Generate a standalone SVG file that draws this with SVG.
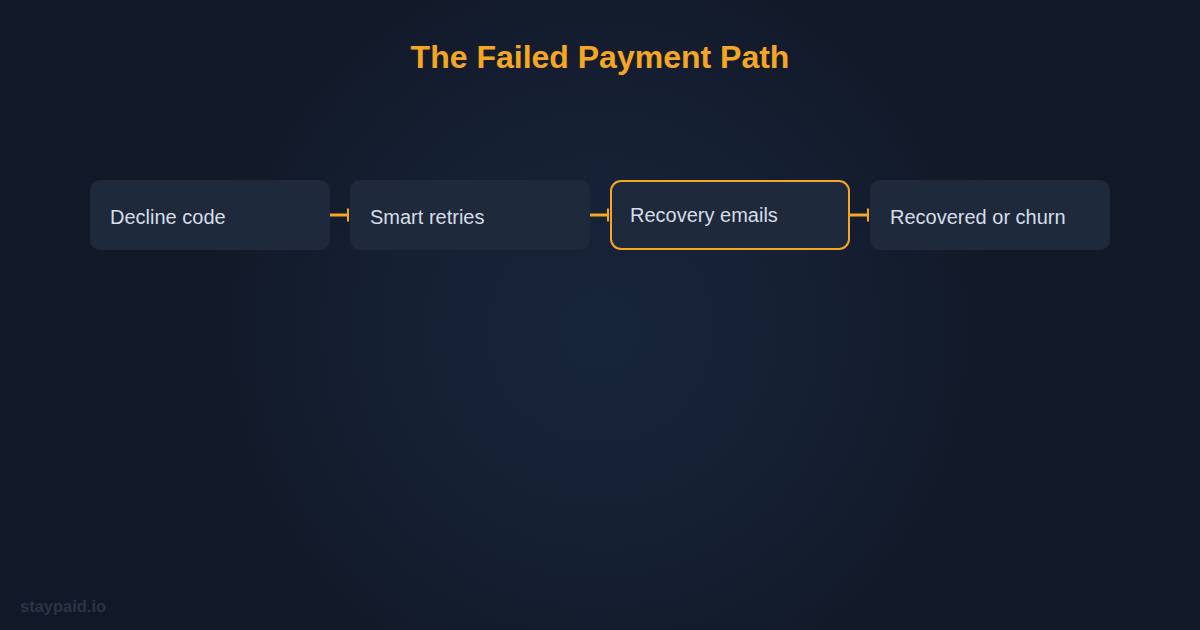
<svg xmlns="http://www.w3.org/2000/svg" width="1200" height="630" viewBox="0 0 1200 630">
  <defs>
    <radialGradient id="bg" cx="600" cy="330" r="420" gradientUnits="userSpaceOnUse">
      <stop offset="0" stop-color="#172538"/>
      <stop offset="0.5" stop-color="#152033"/>
      <stop offset="1" stop-color="#111827"/>
    </radialGradient>
    <marker id="bar" viewBox="0 0 4 14" refX="3" refY="7" markerWidth="4" markerHeight="14" markerUnits="userSpaceOnUse" orient="auto">
      <rect x="1" y="0.5" width="2" height="13" fill="#f5a623"/>
    </marker>
  </defs>
  <style>
    .node { fill: #1e293b; }
    .hl { fill: #1e293b; stroke: #f5a623; stroke-width: 2; }
    .label { font-family: "Liberation Sans", Arial, sans-serif; font-size: 20px; fill: #d6dee9; }
    .conn { stroke: #f5a623; stroke-width: 3; fill: none; }
    .title { font-family: "Liberation Sans", Arial, sans-serif; font-size: 32px; font-weight: bold; fill: #f5a623; }
    .mark { font-family: "Liberation Sans", Arial, sans-serif; font-size: 16.5px; font-weight: bold; fill: #2a3547; }
  </style>
  <rect width="1200" height="630" fill="url(#bg)"/>
  <text class="title" x="600" y="68" text-anchor="middle">The Failed Payment Path</text>
  <g id="connectors">
    <line class="conn" x1="330" y1="215" x2="349" y2="215" marker-end="url(#bar)"/>
    <line class="conn" x1="590" y1="215" x2="609" y2="215" marker-end="url(#bar)"/>
    <line class="conn" x1="850" y1="215" x2="869" y2="215" marker-end="url(#bar)"/>
  </g>
  <g id="node-decline">
    <rect class="node" x="90" y="180" width="240" height="70" rx="10"/>
    <text class="label" x="110" y="224">Decline code</text>
  </g>
  <g id="node-retries">
    <rect class="node" x="350" y="180" width="240" height="70" rx="10"/>
    <text class="label" x="370" y="224">Smart retries</text>
  </g>
  <g id="node-emails">
    <rect class="hl" x="611" y="181" width="238" height="68" rx="10"/>
    <text class="label" x="630" y="222">Recovery emails</text>
  </g>
  <g id="node-outcome">
    <rect class="node" x="870" y="180" width="240" height="70" rx="10"/>
    <text class="label" x="890" y="224">Recovered or churn</text>
  </g>
  <text class="mark" x="20" y="612">staypaid.io</text>
</svg>
